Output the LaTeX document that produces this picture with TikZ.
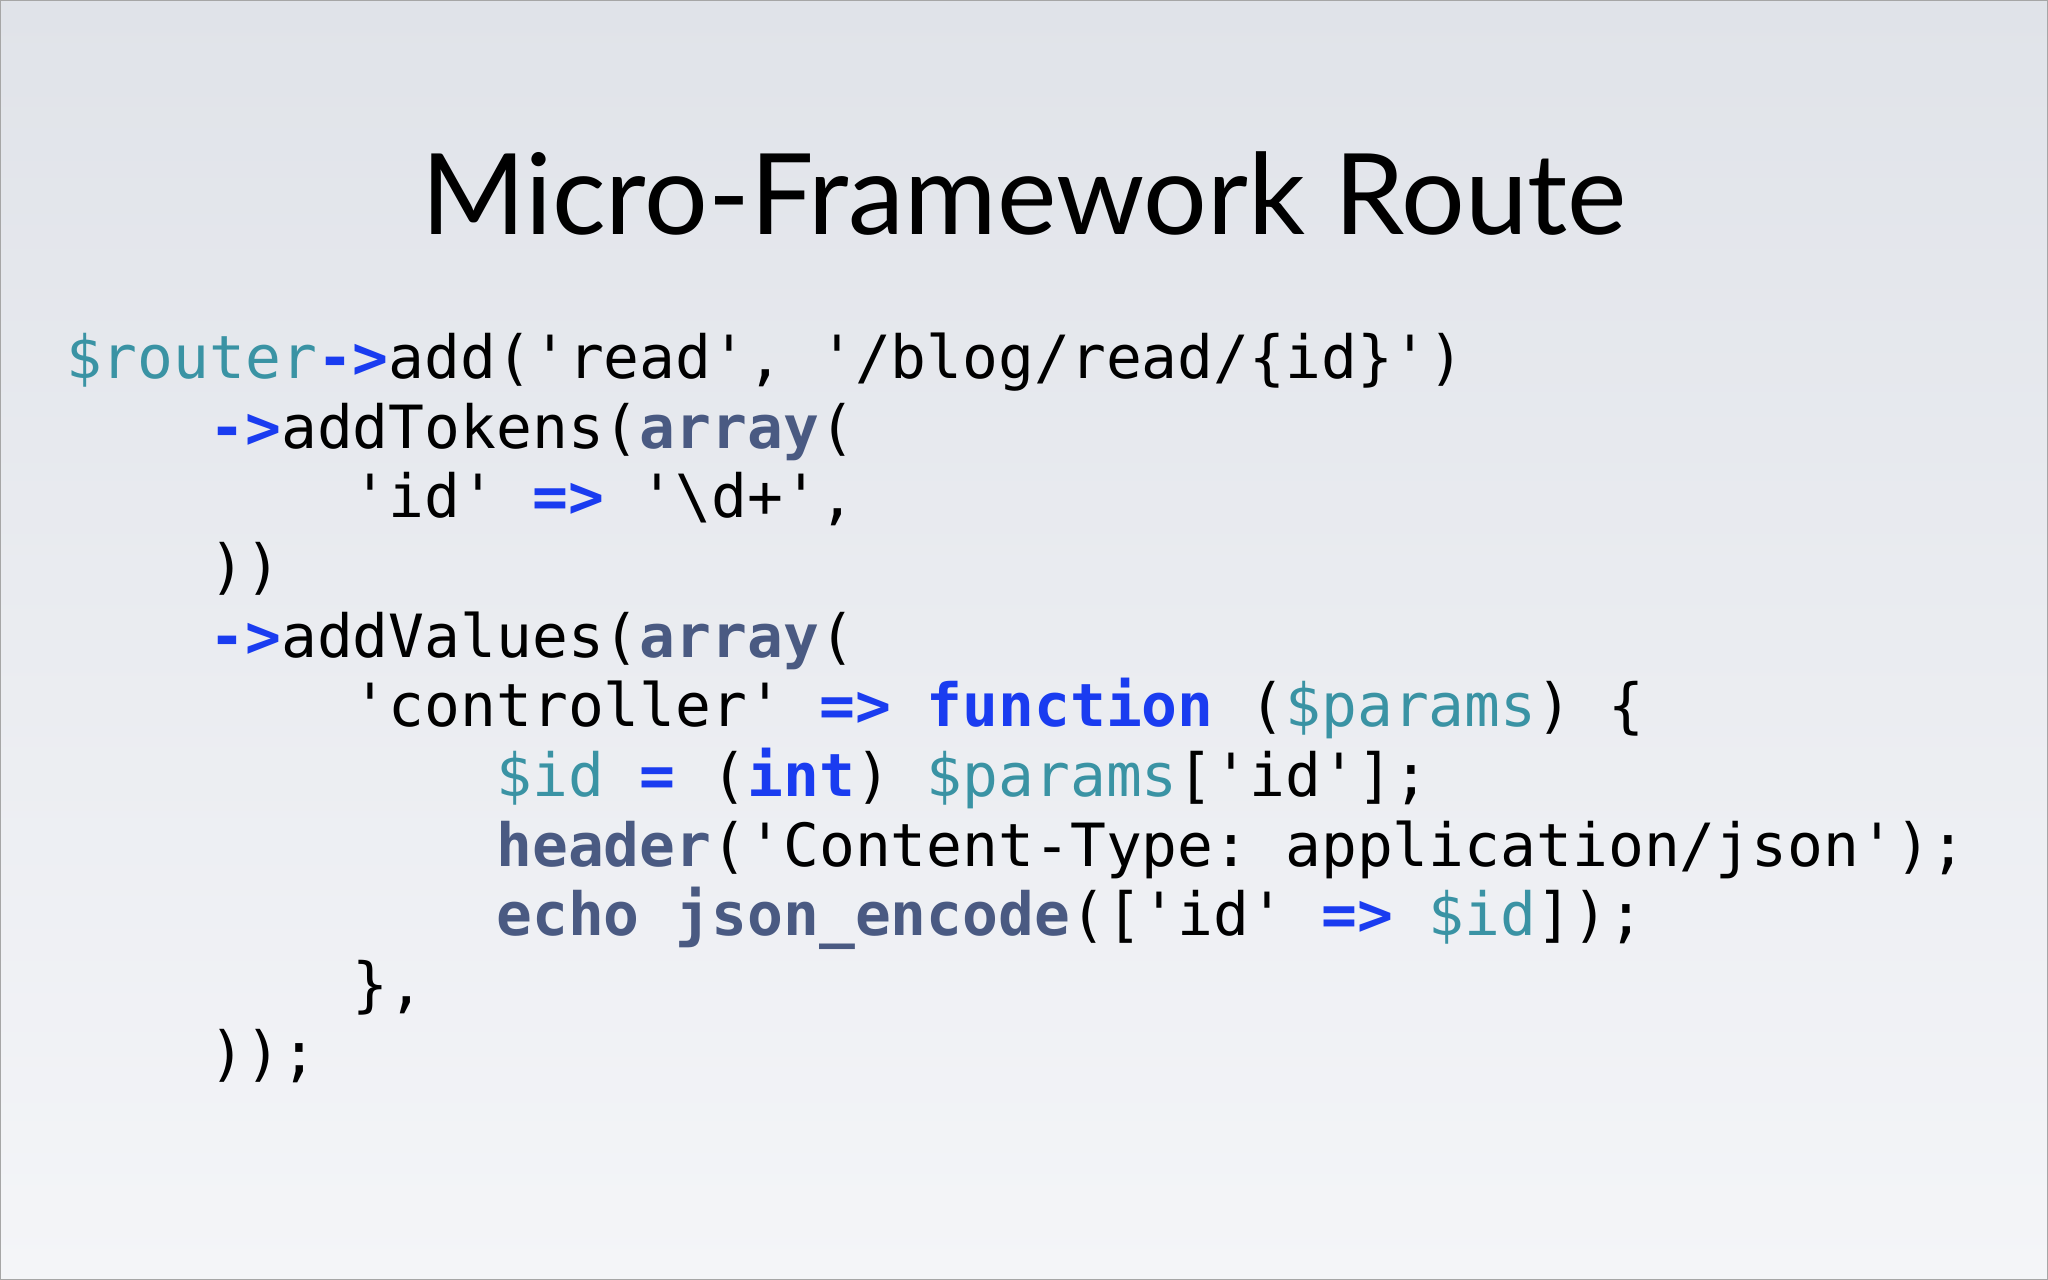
\documentclass[tikz,border=0pt]{standalone}
\usepackage{fontspec}
\setmainfont{Lato}
\setmonofont{DejaVu Sans Mono}
\definecolor{cvar}{HTML}{3A93A4}
\definecolor{cop}{HTML}{1A3CF0}
\definecolor{cslate}{HTML}{4A5A82}
\newcommand{\cv}[1]{\textcolor{cvar}{#1}}
\newcommand{\cop}[1]{\textcolor{cop}{\bfseries #1}}
\newcommand{\ck}[1]{\textcolor{cslate}{\bfseries #1}}
\newcommand{\cb}[1]{\textcolor{cop}{\bfseries #1}}
\begin{document}
\begin{tikzpicture}[x=1cm,y=1cm,
  codeline/.style={anchor=base west,inner sep=0pt,font=\fontsize{16.95}{20}\ttfamily}]
\useasboundingbox (0,0) rectangle (20.48,12.8);
\shade[top color={rgb,255:red,224;green,227;blue,233},bottom color={rgb,255:red,244;green,245;blue,248}] (0,0) rectangle (20.48,12.8);
\draw[gray!70,line width=0.6pt] (0,0) rectangle (20.48,12.8);
\node[anchor=base,inner sep=0pt,font=\fontsize{32}{38}\selectfont] (title) at (10.24,10.45) {Micro-Framework Route};
\def\X{0.653}
\node[codeline] (l0) at (\X,{12.8-290*0.01306}) {\cv{\$router}\cop{->}add('read', '/blog/read/\{id\}')};
\node[codeline] (l1) at (\X,{12.8-343.3*0.01306}) {\phantom{xxxx}\cop{->}addTokens(\ck{array}(};
\node[codeline] (l2) at (\X,{12.8-396.6*0.01306}) {\phantom{xxxxxxxx}'id' \cop{=>} '\textbackslash d+',};
\node[codeline] (l3) at (\X,{12.8-449.9*0.01306}) {\phantom{xxxx}))};
\node[codeline] (l4) at (\X,{12.8-503.2*0.01306}) {\phantom{xxxx}\cop{->}addValues(\ck{array}(};
\node[codeline] (l5) at (\X,{12.8-556.5*0.01306}) {\phantom{xxxxxxxx}'controller' \cop{=>} \cb{function} (\cv{\$params}) \{};
\node[codeline] (l6) at (\X,{12.8-609.8*0.01306}) {\phantom{xxxxxxxxxxxx}\cv{\$id} \cop{=} (\cb{int}) \cv{\$params}['id'];};
\node[codeline] (l7) at (\X,{12.8-663.1*0.01306}) {\phantom{xxxxxxxxxxxx}\ck{header}('Content-Type: application/json');};
\node[codeline] (l8) at (\X,{12.8-716.4*0.01306}) {\phantom{xxxxxxxxxxxx}\ck{echo} \ck{json\_encode}(['id' \cop{=>} \cv{\$id}]);};
\node[codeline] (l9) at (\X,{12.8-769.7*0.01306}) {\phantom{xxxxxxxx}\},};
\node[codeline] (l10) at (\X,{12.8-823*0.01306}) {\phantom{xxxx}));};
\end{tikzpicture}
\end{document}
